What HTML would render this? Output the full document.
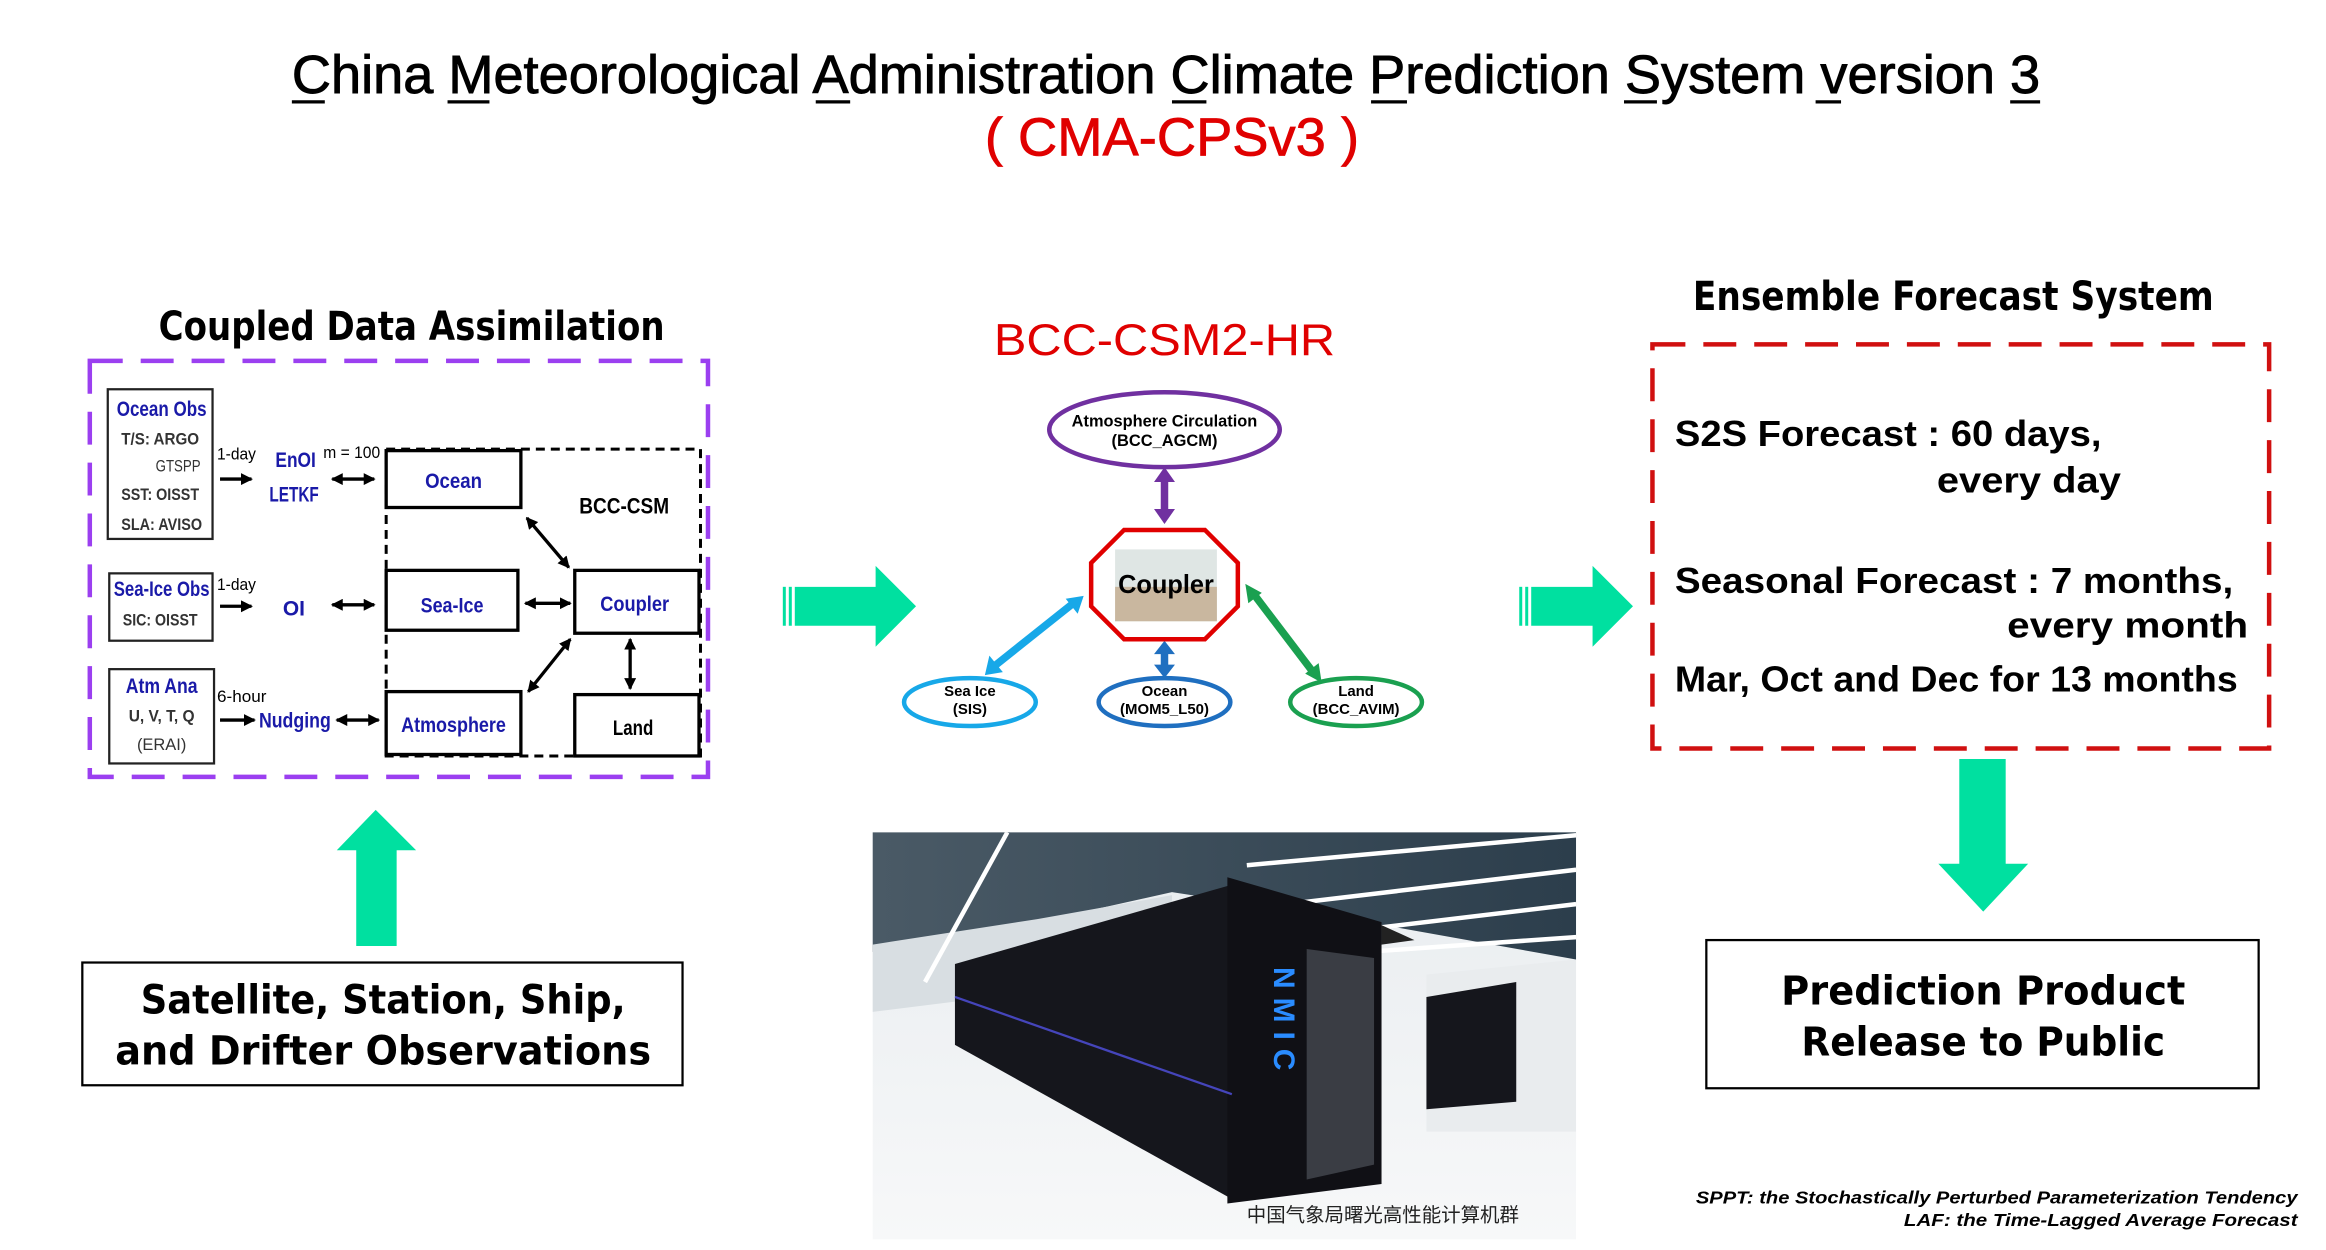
<!DOCTYPE html>
<html><head><meta charset="utf-8"><style>
html,body{margin:0;padding:0;background:#fff;}
svg{display:block}
text{font-family:"Liberation Sans","Noto Sans CJK SC",sans-serif}
.b{font-family:"DejaVu Sans","Liberation Sans",sans-serif;font-weight:bold}
.n{fill:#1a1aa8}
.c{font-weight:bold}
</style></head><body>
<svg width="2326" height="1250" viewBox="0 0 1554 835" xmlns="http://www.w3.org/2000/svg">
<defs>
<marker id="ah" markerWidth="8" markerHeight="8" refX="7" refY="4" orient="auto-start-reverse" markerUnits="userSpaceOnUse"><path d="M0,0 L8,4 L0,8 z" fill="#000"/></marker>
<linearGradient id="floor" x1="0" y1="0" x2="0" y2="1"><stop offset="0" stop-color="#e8ecef"/><stop offset="1" stop-color="#f7f8f9"/></linearGradient>
<linearGradient id="ceil" x1="0" y1="0" x2="1" y2="0"><stop offset="0" stop-color="#4a5a66"/><stop offset="1" stop-color="#2c3e4c"/></linearGradient>
</defs>
<rect width="1554" height="835" fill="#fff"/>
<!-- Title -->
<text x="195" y="62" font-size="36" stroke="#000" stroke-width="0.6" textLength="1168" lengthAdjust="spacingAndGlyphs">China Meteorological Administration Climate Prediction System version 3</text>
<g stroke="#000" stroke-width="2.2">
<line x1="195" y1="68" x2="217" y2="68"/><line x1="299" y1="68" x2="327" y2="68"/><line x1="545" y1="68" x2="568" y2="68"/><line x1="783" y1="68" x2="806" y2="68"/><line x1="916" y1="68" x2="940" y2="68"/><line x1="1085" y1="68" x2="1107" y2="68"/><line x1="1213" y1="68" x2="1230" y2="68"/><line x1="1343" y1="68" x2="1363" y2="68"/>
</g>
<text x="783" y="104" font-size="36" fill="#e00000" stroke="#e00000" stroke-width="0.5" text-anchor="middle" textLength="250" lengthAdjust="spacingAndGlyphs">( CMA-CPSv3 )</text>

<!-- Left section -->
<text x="275" y="227" font-size="27" class="b" text-anchor="middle" textLength="338" lengthAdjust="spacingAndGlyphs">Coupled Data Assimilation</text>
<rect x="60" y="241" width="413" height="278" fill="none" stroke="#9b3ff0" stroke-width="3" stroke-dasharray="22 12"/>
<rect x="258" y="300" width="210" height="205" fill="none" stroke="#000" stroke-width="2" stroke-dasharray="6 4"/>
<g fill="#fff" stroke="#222" stroke-width="1.5">
<rect x="72" y="260" width="70" height="100"/><rect x="73" y="383" width="69" height="45"/><rect x="73" y="447" width="70" height="63"/>
</g>
<g fill="#fff" stroke="#000" stroke-width="2.2">
<rect x="258" y="301" width="90" height="38"/><rect x="258" y="381" width="88" height="40"/><rect x="258" y="462" width="90" height="42"/><rect x="384" y="381" width="83" height="42"/><rect x="384" y="464" width="83" height="41"/>
</g>
<g font-size="14">
<text x="108" y="278" class="n c" text-anchor="middle" textLength="60" lengthAdjust="spacingAndGlyphs">Ocean Obs</text>
<text x="81" y="297" font-size="11" fill="#333" class="c" textLength="52" lengthAdjust="spacingAndGlyphs">T/S:  ARGO</text>
<text x="104" y="315" font-size="11" fill="#333" textLength="30" lengthAdjust="spacingAndGlyphs">GTSPP</text>
<text x="81" y="334" font-size="11" fill="#333" class="c" textLength="52" lengthAdjust="spacingAndGlyphs">SST:  OISST</text>
<text x="81" y="354" font-size="11" fill="#333" class="c" textLength="54" lengthAdjust="spacingAndGlyphs">SLA:  AVISO</text>
<text x="108" y="398" class="n c" text-anchor="middle" textLength="64" lengthAdjust="spacingAndGlyphs">Sea-Ice Obs</text>
<text x="82" y="418" font-size="11" fill="#333" class="c" textLength="50" lengthAdjust="spacingAndGlyphs">SIC:  OISST</text>
<text x="108" y="463" class="n c" text-anchor="middle" textLength="48" lengthAdjust="spacingAndGlyphs">Atm Ana</text>
<text x="108" y="482" font-size="11" fill="#333" class="c" text-anchor="middle" textLength="44" lengthAdjust="spacingAndGlyphs">U, V, T, Q</text>
<text x="108" y="501" font-size="11" fill="#333" text-anchor="middle">(ERAI)</text>
<text x="145" y="307" font-size="11" textLength="26" lengthAdjust="spacingAndGlyphs">1-day</text>
<text x="145" y="394" font-size="11" textLength="26" lengthAdjust="spacingAndGlyphs">1-day</text>
<text x="145" y="469" font-size="11" textLength="33" lengthAdjust="spacingAndGlyphs">6-hour</text>
<text x="184" y="312" class="n c" textLength="27" lengthAdjust="spacingAndGlyphs">EnOI</text>
<text x="180" y="335" class="n c" textLength="33" lengthAdjust="spacingAndGlyphs">LETKF</text>
<text x="216" y="306" font-size="11" textLength="38" lengthAdjust="spacingAndGlyphs">m = 100</text>
<text x="189" y="411" class="n c">OI</text>
<text x="173" y="486" class="n c" textLength="48" lengthAdjust="spacingAndGlyphs">Nudging</text>
<text x="303" y="326" class="n c" text-anchor="middle" textLength="38" lengthAdjust="spacingAndGlyphs">Ocean</text>
<text x="302" y="409" class="n c" text-anchor="middle" textLength="42" lengthAdjust="spacingAndGlyphs">Sea-Ice</text>
<text x="303" y="489" class="n c" text-anchor="middle" textLength="70" lengthAdjust="spacingAndGlyphs">Atmosphere</text>
<text x="424" y="408" class="n c" text-anchor="middle" textLength="46" lengthAdjust="spacingAndGlyphs">Coupler</text>
<text x="423" y="491" text-anchor="middle" class="c" textLength="27" lengthAdjust="spacingAndGlyphs">Land</text>
<text x="417" y="343" font-size="15" class="c" text-anchor="middle" textLength="60" lengthAdjust="spacingAndGlyphs">BCC-CSM</text>
</g>
<g stroke="#000" stroke-width="2.2" fill="none">
<line x1="147" y1="320" x2="168" y2="320" marker-end="url(#ah)"/>
<line x1="147" y1="405" x2="168" y2="405" marker-end="url(#ah)"/>
<line x1="147" y1="481" x2="170" y2="481" marker-end="url(#ah)"/>
<line x1="222" y1="320" x2="250" y2="320" marker-start="url(#ah)" marker-end="url(#ah)"/>
<line x1="222" y1="404" x2="250" y2="404" marker-start="url(#ah)" marker-end="url(#ah)"/>
<line x1="225" y1="481" x2="253" y2="481" marker-start="url(#ah)" marker-end="url(#ah)"/>
<line x1="352" y1="346" x2="380" y2="379" marker-start="url(#ah)" marker-end="url(#ah)"/>
<line x1="351" y1="403" x2="381" y2="403" marker-start="url(#ah)" marker-end="url(#ah)"/>
<line x1="353" y1="462" x2="381" y2="427" marker-start="url(#ah)" marker-end="url(#ah)"/>
<line x1="421" y1="427" x2="421" y2="460" marker-start="url(#ah)" marker-end="url(#ah)"/>
</g>
<!-- up arrow -->
<polygon points="238,632 265,632 265,568 278,568 251,541 225,568 238,568" fill="#00e0a0"/>
<rect x="55" y="643" width="401" height="82" fill="#fff" stroke="#000" stroke-width="1.5"/>
<text x="256" y="677" font-size="27" class="b" text-anchor="middle" textLength="324" lengthAdjust="spacingAndGlyphs">Satellite, Station, Ship,</text>
<text x="256" y="711" font-size="27" class="b" text-anchor="middle" textLength="358" lengthAdjust="spacingAndGlyphs">and Drifter Observations</text>

<!-- Green right arrows -->
<g fill="#00e0a0">
<rect x="523" y="392" width="2" height="26"/><rect x="527" y="392" width="2" height="26"/><polygon points="531,392 585,392 585,378 612,405 585,432 585,418 531,418"/>
<rect x="1015" y="392" width="2" height="26"/><rect x="1019" y="392" width="2" height="26"/><polygon points="1023,392 1064,392 1064,378 1091,405 1064,432 1064,418 1023,418"/>
</g>

<!-- Center model -->
<text x="778" y="237" font-size="30" fill="#e00000" text-anchor="middle" textLength="228" lengthAdjust="spacingAndGlyphs">BCC-CSM2-HR</text>
<line x1="778" y1="316" x2="778" y2="346" stroke="#7030a0" stroke-width="5"/>
<polygon points="778,312 771,322 785,322" fill="#7030a0"/><polygon points="778,350 771,340 785,340" fill="#7030a0"/>
<line x1="778" y1="432" x2="778" y2="449" stroke="#1f6fc0" stroke-width="5"/>
<polygon points="778,428 771,437 785,437" fill="#1f6fc0"/><polygon points="778,453 771,444 785,444" fill="#1f6fc0"/>
<line x1="663" y1="446" x2="717" y2="403" stroke="#17a8e8" stroke-width="5"/>
<polygon points="658,451 661,438 670,449" fill="#17a8e8"/><polygon points="724,398 720,410 712,400" fill="#17a8e8"/>
<line x1="837" y1="396" x2="878" y2="450" stroke="#1aa050" stroke-width="5"/>
<polygon points="832,390 843,396 834,403" fill="#1aa050"/><polygon points="883,456 872,450 881,443" fill="#1aa050"/>
<ellipse cx="778" cy="287" rx="77" ry="25" fill="#fff" stroke="#7030a0" stroke-width="3"/>
<text x="778" y="285" font-size="11" font-weight="bold" text-anchor="middle" textLength="124" lengthAdjust="spacingAndGlyphs">Atmosphere Circulation</text>
<text x="778" y="298" font-size="11" font-weight="bold" text-anchor="middle">(BCC_AGCM)</text>
<polygon points="751,354 805,354 827,376 827,405 805,427 751,427 729,405 729,376" fill="#fff" stroke="#e00000" stroke-width="3"/>
<rect x="745" y="367" width="68" height="48" fill="#dfe6e4"/><rect x="745" y="392" width="68" height="23" fill="#c9b79f"/>
<text x="779" y="396" font-size="17" font-weight="bold" text-anchor="middle" textLength="64" lengthAdjust="spacingAndGlyphs">Coupler</text>
<ellipse cx="648" cy="469" rx="44" ry="16" fill="#fff" stroke="#17a8e8" stroke-width="3"/>
<ellipse cx="778" cy="469" rx="44" ry="16" fill="#fff" stroke="#1f6fc0" stroke-width="3"/>
<ellipse cx="906" cy="469" rx="44" ry="16" fill="#fff" stroke="#1aa050" stroke-width="3"/>
<g font-size="10" font-weight="bold" text-anchor="middle">
<text x="648" y="465">Sea Ice</text><text x="648" y="477">(SIS)</text>
<text x="778" y="465">Ocean</text><text x="778" y="477">(MOM5_L50)</text>
<text x="906" y="465">Land</text><text x="906" y="477">(BCC_AVIM)</text>
</g>

<!-- Photo -->
<svg x="583" y="556" width="470" height="272" viewBox="0 0 470 272">
<rect width="470" height="272" fill="url(#floor)"/>
<polygon points="0,0 470,0 470,85 330,60 200,40 110,60 0,80" fill="url(#ceil)"/>
<polygon points="0,75 110,58 200,42 200,95 0,120" fill="#d8dee2"/>
<g stroke="#fff" stroke-width="3"><line x1="90" y1="0" x2="35" y2="100"/><line x1="250" y1="22" x2="470" y2="2"/><line x1="260" y1="50" x2="470" y2="25"/><line x1="285" y1="70" x2="470" y2="48"/><line x1="300" y1="82" x2="470" y2="70"/></g>
<polygon points="470,85 370,95 370,200 470,200" fill="#e9ecee"/>
<polygon points="55,88 240,35 240,245 55,142" fill="#15161c"/>
<polygon points="237,30 340,60 340,235 237,248" fill="#101015"/>
<polygon points="290,78 335,84 335,222 290,232" fill="#3a3d44"/>
<polygon points="362,72 340,62 340,75" fill="#222"/>
<polygon points="370,110 430,100 430,180 370,185" fill="#15161c"/>
<line x1="55" y1="110" x2="240" y2="175" stroke="#5a5aff" stroke-width="1.5" opacity="0.7"/>
<text x="268" y="90" font-size="20" font-weight="bold" fill="#2a8cff" transform="rotate(90 268 90)" letter-spacing="6">NMIC</text>
<text x="250" y="260" font-size="13" fill="#222" font-family="Noto Sans CJK SC, sans-serif">中国气象局曙光高性能计算机群</text>
</svg>

<!-- Right section -->
<text x="1305" y="207" font-size="27" class="b" text-anchor="middle" textLength="348" lengthAdjust="spacingAndGlyphs">Ensemble Forecast System</text>
<rect x="1104" y="230" width="412" height="270" fill="none" stroke="#d01010" stroke-width="3" stroke-dasharray="22 12"/>
<g font-size="24" class="b">
<text x="1119" y="298" textLength="285" lengthAdjust="spacingAndGlyphs">S2S Forecast : 60 days,</text>
<text x="1294" y="329" textLength="123" lengthAdjust="spacingAndGlyphs">every day</text>
<text x="1119" y="396" textLength="373" lengthAdjust="spacingAndGlyphs">Seasonal Forecast : 7 months,</text>
<text x="1341" y="426" textLength="161" lengthAdjust="spacingAndGlyphs">every month</text>
<text x="1119" y="462" textLength="376" lengthAdjust="spacingAndGlyphs">Mar, Oct and Dec for 13 months</text>
</g>
<polygon points="1309,507 1340,507 1340,577 1355,577 1325,609 1295,577 1309,577" fill="#00e0a0"/>
<rect x="1140" y="628" width="369" height="99" fill="#fff" stroke="#000" stroke-width="1.5"/>
<text x="1325" y="671" font-size="27" class="b" text-anchor="middle" textLength="270" lengthAdjust="spacingAndGlyphs">Prediction Product</text>
<text x="1325" y="705" font-size="27" class="b" text-anchor="middle" textLength="243" lengthAdjust="spacingAndGlyphs">Release to Public</text>
<g font-size="12" font-style="italic" font-weight="bold" text-anchor="end">
<text x="1535" y="804" textLength="402" lengthAdjust="spacingAndGlyphs">SPPT:  the Stochastically Perturbed Parameterization Tendency</text>
<text x="1535" y="819" textLength="263" lengthAdjust="spacingAndGlyphs">LAF:    the Time-Lagged Average Forecast</text>
</g>
<rect x="0" y="838" width="1554" height="4" fill="#f3f4f4"/>
</svg>
</body></html>
